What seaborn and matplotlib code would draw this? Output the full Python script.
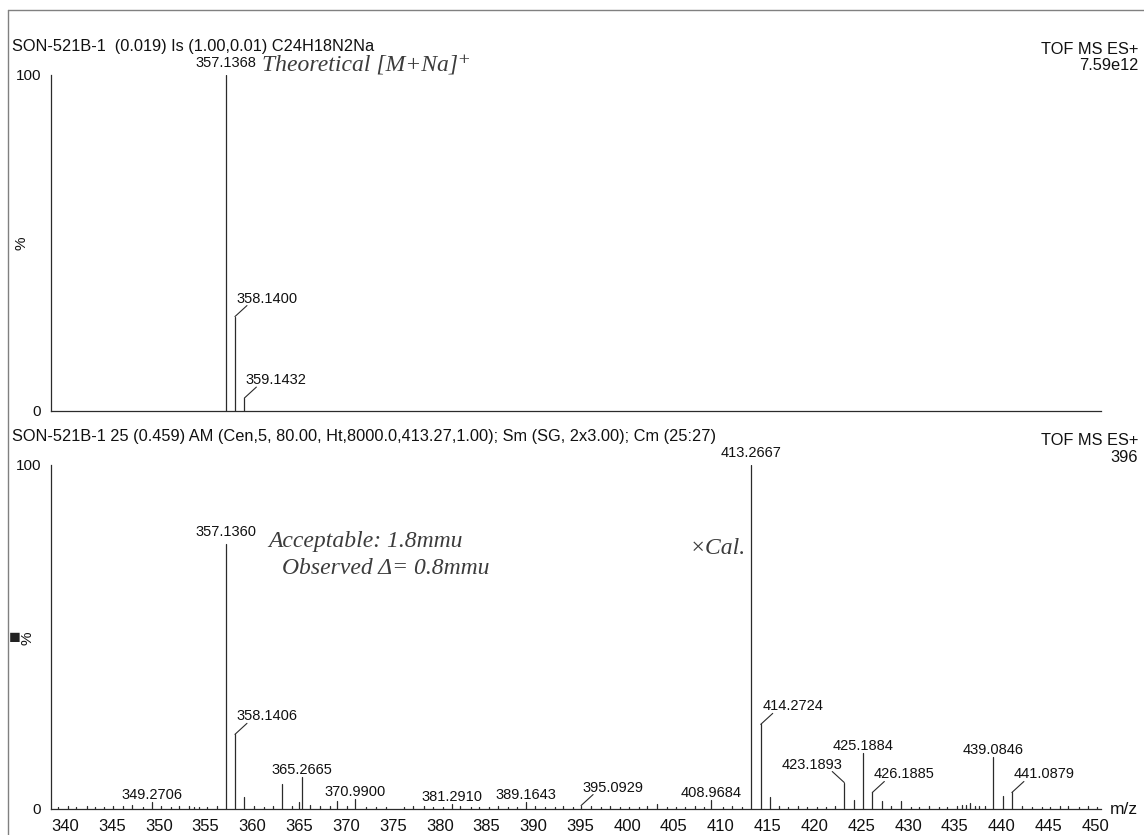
import matplotlib
matplotlib.use("Agg")
import matplotlib.pyplot as plt
from matplotlib.lines import Line2D
from matplotlib.ticker import MultipleLocator, FixedLocator
import pandas as pd
import seaborn as sns

# ---- data -------------------------------------------------------------
# theoretical isotope pattern for C24H18N2Na
theo_mz = [357.1368, 358.1400, 359.1432]
theo_int = [100.0, 28.0, 3.7]

# observed spectrum, scan 25 : labelled centroids
obs_mz = [349.2706, 357.1360, 358.1406, 365.2665, 370.9900, 381.2910,
          389.1643, 395.0929, 408.9684, 413.2667, 414.2724, 423.1893,
          425.1884, 426.1885, 439.0846, 441.0879]
obs_int = [2.0, 77.0, 21.7, 9.3, 2.9, 1.5, 2.0, 1.0, 2.5, 100.0, 24.6,
           7.7, 16.2, 4.8, 15.0, 4.8]

# observed spectrum : unlabelled centroids (m/z, %)
minor_peaks = [
    (339.2, 0.7), (340.3, 0.9), (341.2, 0.6), (342.3, 0.8), (343.2, 0.7),
    (344.2, 0.6), (345.1, 1.0), (346.2, 0.8), (347.2, 1.1), (348.3, 0.6),
    (350.2, 0.9), (351.3, 0.7), (352.2, 0.8), (353.2, 0.9), (353.8, 0.6),
    (354.3, 0.7), (355.2, 0.6), (356.2, 0.8), (359.1, 3.5), (360.2, 0.9),
    (361.2, 0.7), (362.2, 0.8), (363.2, 7.2), (364.2, 1.0), (365.0, 2.1),
    (366.2, 1.2), (367.2, 0.9), (368.3, 0.8), (369.0, 2.3), (370.1, 0.8),
    (372.1, 0.7), (373.2, 0.6), (374.3, 0.7), (376.2, 0.6), (377.2, 0.8),
    (378.3, 1.0), (379.3, 0.7), (380.3, 0.6), (382.2, 0.8), (383.3, 0.6),
    (384.2, 0.7), (385.3, 0.6), (386.2, 0.9), (387.3, 0.7), (388.3, 0.6),
    (390.2, 0.8), (391.2, 0.6), (392.3, 0.7), (393.2, 0.8), (394.2, 0.6),
    (396.1, 0.9), (397.2, 0.7), (398.2, 0.8), (399.3, 0.6), (400.2, 0.7),
    (401.3, 0.6), (402.1, 0.8), (403.2, 1.4), (404.3, 0.6), (405.2, 0.7),
    (406.2, 0.6), (407.3, 0.8), (408.2, 0.7), (410.2, 0.6), (411.2, 0.8),
    (412.3, 0.7), (415.3, 3.5), (416.2, 0.9), (417.2, 0.7), (418.3, 0.8),
    (419.2, 0.6), (420.3, 0.7), (421.2, 0.6), (422.2, 0.8), (424.2, 2.7),
    (427.2, 2.4), (428.2, 0.8), (429.2, 2.2), (430.3, 0.7), (431.2, 0.6),
    (432.2, 0.8), (433.3, 0.6), (434.2, 0.7), (435.2, 0.9), (435.8, 1.1),
    (436.2, 1.3), (436.6, 1.7), (437.2, 1.0), (437.6, 0.8), (438.2, 0.9),
    (440.1, 3.9), (442.2, 0.8), (443.2, 0.6), (444.3, 0.7), (445.2, 0.6),
    (446.2, 0.8), (447.1, 0.9), (448.2, 0.7), (449.2, 0.8), (450.2, 0.6),
]

mz_min, mz_max = 338.5, 450.6
x_major = list(range(340, 451, 5))

# ---- label placement (style) -------------------------------------------
# 'top': centred, larger gap; 'up': centred; 'right'/'left': with leader
theo_place = {"357.1368": "top", "358.1400": "right", "359.1432": "right"}
obs_place = {"357.1360": "top", "413.2667": "top", "358.1406": "right",
             "414.2724": "right", "423.1893": "left", "426.1885": "right",
             "441.0879": "right", "395.0929": "right"}

INK = "#2b2b2b"
sns.set_theme(style="white", rc={"axes.edgecolor": INK, "axes.linewidth": 0.9,
                                  "xtick.color": INK, "ytick.color": INK})
plt.rcParams["font.family"] = ["Liberation Sans", "DejaVu Sans"]


def sticks(mz, inten):
    rows = []
    for i, (m, h) in enumerate(zip(mz, inten)):
        rows.append({"mz": m, "rel": 0.0, "pid": i})
        rows.append({"mz": m, "rel": h, "pid": i})
    return pd.DataFrame(rows)


def label_peaks(ax, mz, inten, place, fs=10.5):
    for m, h in zip(mz, inten):
        txt = f"{m:.4f}"
        p = place.get(txt, "up")
        if p in ("right", "left"):
            s = 1 if p == "right" else -1
            ax.annotate("", xy=(m, h), xytext=(12 * s, 11),
                        textcoords="offset pixels", annotation_clip=False,
                        arrowprops=dict(arrowstyle="-", color=INK, lw=0.8,
                                        shrinkA=0, shrinkB=0))
            ax.annotate(txt, xy=(m, h), xytext=(32 * s, 14),
                        textcoords="offset pixels", ha="center",
                        va="baseline", fontsize=fs, color="#111",
                        annotation_clip=False)
        else:
            dy = 8 if p == "top" else 3
            ax.annotate(txt, xy=(m, h), xytext=(0, dy),
                        textcoords="offset pixels", ha="center",
                        va="baseline", fontsize=fs, color="#111",
                        annotation_clip=False)


def style_axes(ax, show_xlabels):
    ax.set_xlim(mz_min, mz_max)
    ax.set_ylim(0, 100)
    sns.despine(ax=ax)
    ax.set_xlabel("")
    ax.set_ylabel("")
    ax.xaxis.set_major_locator(FixedLocator(x_major))
    ax.xaxis.set_minor_locator(MultipleLocator(1))
    ax.yaxis.set_major_locator(FixedLocator([0, 100]))
    ax.yaxis.set_minor_locator(MultipleLocator(10))
    ax.tick_params(axis="x", which="major", direction="out", length=6,
                   width=0.8, labelbottom=show_xlabels, pad=1)
    ax.tick_params(axis="x", which="minor", direction="out", length=3,
                   width=0.7)
    ax.tick_params(axis="y", which="major", direction="out", length=6,
                   width=0.8, labelsize=11, pad=1, labelcolor="#111")
    ax.tick_params(axis="y", which="minor", direction="out", length=3,
                   width=0.7)
    for lab in ax.get_xticklabels():
        lab.set_fontfamily(["Liberation Sans Narrow", "Liberation Sans"])
        lab.set_fontsize(12)
        lab.set_color("#111")


W, H = 1144, 835
fig = plt.figure(figsize=(W / 100, H / 100), dpi=100)
fig.patch.set_facecolor("white")


def px_axes(x0, y_top, x1, y_bot):
    return fig.add_axes([x0 / W, 1 - y_bot / H, (x1 - x0) / W,
                         (y_bot - y_top) / H])


ax_t = px_axes(51, 75, 1101, 410.5)
ax_b = px_axes(51, 465, 1101, 809)

# theoretical pattern
sns.lineplot(data=sticks(theo_mz, theo_int), x="mz", y="rel", units="pid",
             estimator=None, sort=False, color=INK, lw=0.9, ax=ax_t)
style_axes(ax_t, False)
label_peaks(ax_t, theo_mz, theo_int, theo_place)

# observed spectrum
mm = [p[0] for p in minor_peaks]
mi = [p[1] for p in minor_peaks]
sns.lineplot(data=sticks(mm + obs_mz, mi + obs_int), x="mz", y="rel",
             units="pid", estimator=None, sort=False, color=INK, lw=0.9,
             ax=ax_b)
style_axes(ax_b, True)
label_peaks(ax_b, obs_mz, obs_int, obs_place)
ax_b.text(1.008, 0.0, "m/z", transform=ax_b.transAxes, fontsize=12.5,
          ha="left", va="center", color="#111")

# rotated "%" intensity titles
fig.text(21 / W, 1 - 243 / H, "%", fontsize=11, rotation=90, ha="center",
         va="center", color="#111")
fig.text(27 / W, 1 - 638 / H, "%", fontsize=11, rotation=90, ha="center",
         va="center", color="#111")
fig.text(9 / W, 1 - 639 / H, "\u25a0", fontsize=14, va="center", ha="left",
         color="#222")

# headers
fs_h = 11.8
fig.text(12 / W, 1 - 46 / H, "SON-521B-1  (0.019) Is (1.00,0.01) C24H18N2Na",
         fontsize=fs_h, va="center", ha="left", color="#111")
fig.text(1138 / W, 1 - 49 / H, "TOF MS ES+", fontsize=fs_h, va="center",
         ha="right", color="#111")
fig.text(1138 / W, 1 - 66 / H, "7.59e12", fontsize=fs_h, va="center",
         ha="right", color="#111")
fig.text(12 / W, 1 - 437 / H,
         "SON-521B-1 25 (0.459) AM (Cen,5, 80.00, Ht,8000.0,413.27,1.00); "
         "Sm (SG, 2x3.00); Cm (25:27)",
         fontsize=fs_h, va="center", ha="left", color="#111")
fig.text(1138 / W, 1 - 440 / H, "TOF MS ES+", fontsize=fs_h, va="center",
         ha="right", color="#111")
fig.text(1138 / W, 1 - 457 / H, "396", fontsize=fs_h, va="center",
         ha="right", color="#111")

# handwritten notes
hand = dict(fontfamily=["Liberation Serif", "DejaVu Serif"],
            fontstyle="italic", fontsize=17, color="#3c3c3c", va="center",
            ha="left")
fig.text(262 / W, 1 - 66 / H, "Theoretical [M+Na]\u207a", **hand)
fig.text(268 / W, 1 - 541 / H, "Acceptable: 1.8mmu", **hand)
fig.text(282 / W, 1 - 568 / H, "Observed \u0394= 0.8mmu", **hand)
fig.text(690 / W, 1 - 548 / H, "\u00d7Cal.", **hand)

# page frame
fig.add_artist(Line2D([8 / W, 8 / W], [0, 1 - 10 / H], transform=fig.transFigure,
                      color="#808080", lw=1.0))
fig.add_artist(Line2D([8 / W, 1], [1 - 10 / H, 1 - 10 / H],
                      transform=fig.transFigure, color="#808080", lw=1.0))

fig.savefig("out.png", dpi=100, facecolor="white")
